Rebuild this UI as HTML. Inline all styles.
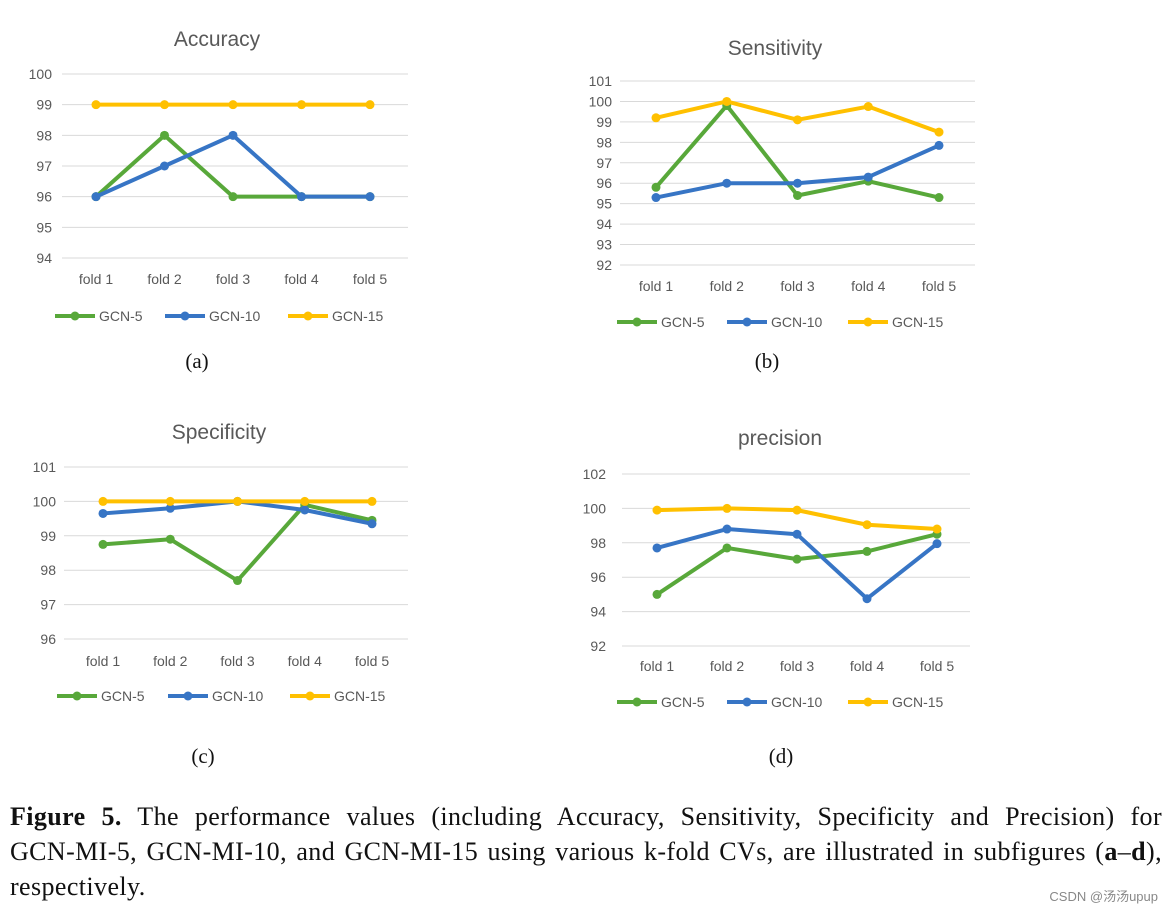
<!DOCTYPE html>
<html><head><meta charset="utf-8"><style>
body{margin:0;background:#fff;width:1172px;height:914px;overflow:hidden;position:relative}
svg{position:absolute;left:0;top:0}
.cap{position:absolute;left:10px;width:1152px;font-family:"Liberation Serif",serif;font-size:26px;letter-spacing:0.4px;line-height:30px;color:#111;white-space:nowrap}
.just{text-align:justify;text-align-last:justify}
.wm{position:absolute;right:14px;top:886px;font-family:"Liberation Sans","Noto Sans CJK SC",sans-serif;font-size:13px;color:#888}
</style></head><body>
<svg id="fig" width="1172" height="914"></svg>
<div class="cap just" style="top:802px"><b>Figure 5.</b> The performance values (including Accuracy, Sensitivity, Specificity and Precision) for</div>
<div class="cap just" style="top:837px">GCN-MI-5, GCN-MI-10, and GCN-MI-15 using various k-fold CVs, are illustrated in subfigures (<b>a</b>–<b>d</b>),</div>
<div class="cap" style="top:872px">respectively.</div>
<div class="wm">CSDN @汤汤upup</div>
<script>
const categories=["fold 1","fold 2","fold 3","fold 4","fold 5"];
const seriesNames=["GCN-5","GCN-10","GCN-15"];
const accG5=[96,98,96,96,96];
const accG10=[96,97,98,96,96];
const accG15=[99,99,99,99,99];
const senG5=[95.8,99.8,95.4,96.1,95.3];
const senG10=[95.3,96.0,96.0,96.3,97.85];
const senG15=[99.2,100,99.1,99.75,98.5];
const speG5=[98.75,98.9,97.7,99.9,99.45];
const speG10=[99.65,99.8,100,99.75,99.35];
const speG15=[100,100,100,100,100];
const preG5=[95.0,97.7,97.05,97.5,98.5];
const preG10=[97.7,98.8,98.5,94.75,97.95];
const preG15=[99.9,100,99.9,99.05,98.8];
const accTicks=[94,95,96,97,98,99,100];
const senTicks=[92,93,94,95,96,97,98,99,100,101];
const speTicks=[96,97,98,99,100,101];
const preTicks=[92,94,96,98,100,102];
const colors=["#58a83a","#3775c5","#ffc000"];
const NS="http://www.w3.org/2000/svg";
const svg=document.getElementById('fig');
function mk(tag,attrs,parent){const e=document.createElementNS(NS,tag);for(const k in attrs)e.setAttribute(k,attrs[k]);(parent||svg).appendChild(e);return e;}
const panels=[
 {key:"accuracy",title:"Accuracy",tx:217,ty:38,ticks:accTicks,yTop:74,yBot:258,gx0:62,gx1:408,fx0:96,fx1:370,fy:279,tickX:52,legY:316,legX:[55,165,288],lab:"(a)",lx:197,ly:361,data:[accG5,accG10,accG15]},
 {key:"sensitivity",title:"Sensitivity",tx:775,ty:47,ticks:senTicks,yTop:81,yBot:265,gx0:620,gx1:975,fx0:656,fx1:939,fy:286,tickX:612,legY:322,legX:[617,727,848],lab:"(b)",lx:767,ly:361,data:[senG5,senG10,senG15]},
 {key:"specificity",title:"Specificity",tx:219,ty:431,ticks:speTicks,yTop:467,yBot:639,gx0:64,gx1:408,fx0:103,fx1:372,fy:661,tickX:56,legY:696,legX:[57,168,290],lab:"(c)",lx:203,ly:756,data:[speG5,speG10,speG15]},
 {key:"precision",title:"precision",tx:780,ty:437,ticks:preTicks,yTop:474,yBot:646,gx0:622,gx1:970,fx0:657,fx1:937,fy:666,tickX:606,legY:702,legX:[617,727,848],lab:"(d)",lx:781,ly:756,data:[preG5,preG10,preG15]}
];
panels.forEach(p=>{
 const g=mk('g',{});
 
 
 const tmin=p.ticks[0],tmax=p.ticks[p.ticks.length-1];
 const y=v=>p.yBot-(v-tmin)/(tmax-tmin)*(p.yBot-p.yTop);
 const x=i=>p.fx0+i*(p.fx1-p.fx0)/(categories.length-1);
 const t=mk('text',{x:p.tx,y:p.ty+8,'text-anchor':'middle','font-family':'Liberation Sans,sans-serif','font-size':21,fill:'#595959'},g);
 t.textContent=p.title;
 
 
 p.ticks.forEach(v=>{
  const l=mk('line',{x1:p.gx0,x2:p.gx1,y1:y(v),y2:y(v),stroke:'#d9d9d9','stroke-width':1},g);
  
  
  const tt=mk('text',{x:p.tickX,y:y(v)+5,'text-anchor':'end','font-family':'Liberation Sans,sans-serif','font-size':14,fill:'#595959'},g);
  tt.textContent=v;
  
  
 });
 categories.forEach((c,i)=>{
  const tt=mk('text',{x:x(i),y:p.fy+5,'text-anchor':'middle','font-family':'Liberation Sans,sans-serif','font-size':14,fill:'#595959'},g);
  tt.textContent=c;
  
  
 });
 p.data.forEach((arr,s)=>{
  const pl=mk('polyline',{points:arr.map((v,i)=>x(i)+','+y(v)).join(' '),fill:'none',stroke:colors[s],'stroke-width':4,'stroke-linejoin':'round'},g);
  
  
  arr.forEach((v,i)=>{
   const c=mk('circle',{cx:x(i),cy:y(v),r:4.5,fill:colors[s]},g);
   
   
  });
 });
 seriesNames.forEach((n,s)=>{
  const lx=p.legX[s];
  const ll=mk('line',{x1:lx,x2:lx+40,y1:p.legY,y2:p.legY,stroke:colors[s],'stroke-width':4},g);
  
  
  mk('circle',{cx:lx+20,cy:p.legY,r:4.5,fill:colors[s]},g);
  const lt=mk('text',{x:lx+44,y:p.legY+5,'font-family':'Liberation Sans,sans-serif','font-size':14,fill:'#595959'},g);
  lt.textContent=n;
  
  
 });
 const pl=mk('text',{x:p.lx,y:p.ly+7,'text-anchor':'middle','font-family':'Liberation Serif,serif','font-size':21,fill:'#111'},g);
 pl.textContent=p.lab;
 
 
});
</script>
</body></html>
